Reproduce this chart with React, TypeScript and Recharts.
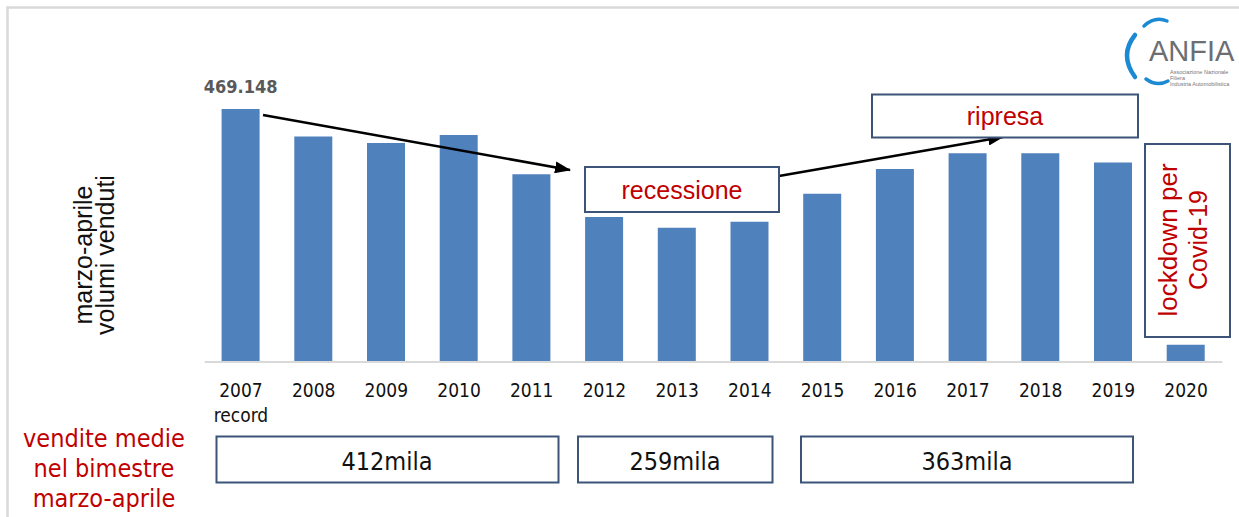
import React from "react";
import { BarChart, Bar, XAxis, YAxis, LabelList } from "recharts";

const years = ["2007", "2008", "2009", "2010", "2011", "2012", "2013", "2014", "2015", "2016", "2017", "2018", "2019", "2020"];
const sales = [469148, 418000, 406000, 421000, 348000, 269000, 249000, 260000, 312000, 358000, 387000, 387000, 370000, 32000];
const yearNotes = ["record", "", "", "", "", "", "", "", "", "", "", "", "", ""];
const peakLabel = "469.148";
const averages = ["412mila", "259mila", "363mila"];
const yTitle = ["marzo-aprile", "volumi venduti"];
const averagesTitle = ["vendite medie", "nel bimestre", "marzo-aprile"];
const phases = ["recessione", "ripresa"];
const lockdownLines = ["lockdown per", "Covid-19"];

const data = years.map((year, i) => ({ year, sales: sales[i], note: yearNotes[i] }));

const W = 1239;
const H = 517;
const BLUE = "#4F81BD";
const RED = "#C00000";
const NAVY = "#3B5478";
const TAHOMA = '"DejaVu Sans Condensed", "DejaVu Sans", sans-serif';
const ARIAL = '"Liberation Sans", Arial, sans-serif';

function YearTick(props: any) {
  const { x, y, payload } = props;
  const i = years.indexOf(String(payload.value));
  return (
    <g>
      <text x={x} y={y + 35} textAnchor="middle" fontFamily={TAHOMA} fontSize={19} fill="#111">
        {payload.value}
      </text>
      {yearNotes[i] && (
        <text x={x} y={y + 60} textAnchor="middle" fontFamily={TAHOMA} fontSize={19} fill="#111">
          {yearNotes[i]}
        </text>
      )}
    </g>
  );
}

function PeakLabel(props: any) {
  const { x, y, width, index } = props;
  if (index !== 0) return null;
  return (
    <text x={x + width / 2} y={y - 16} textAnchor="middle" fontFamily={TAHOMA} fontWeight="bold" fontSize={18} fill="#595959">
      {peakLabel}
    </text>
  );
}

function Box({ x, y, w, h }: { x: number; y: number; w: number; h: number }) {
  return <rect x={x} y={y} width={w} height={h} fill="#fff" stroke={NAVY} strokeWidth={2} />;
}

function Logo() {
  return (
    <g>
      <path d="M1135,35 Q1119,55 1135,77" fill="none" stroke="#1B8AD3" strokeWidth={4.5} strokeLinecap="round" />
      <path d="M1144,26 Q1155,16 1167,21" fill="none" stroke="#1B8AD3" strokeWidth={3.5} strokeLinecap="round" />
      <path d="M1146,79 Q1157,87 1168,81" fill="none" stroke="#1B8AD3" strokeWidth={3.5} strokeLinecap="round" />
      <text x={1149} y={61} fontFamily={ARIAL} fontSize={29} fill="#6b6e72">ANFIA</text>
      <text x={1170} y={74} fontFamily={ARIAL} fontSize={5.5} fill="#777">Associazione Nazionale</text>
      <text x={1170} y={80} fontFamily={ARIAL} fontSize={5.5} fill="#777">Filiera</text>
      <text x={1170} y={86} fontFamily={ARIAL} fontSize={5.5} fill="#777">Industria Automobilistica</text>
    </g>
  );
}

export default function App() {
  return (
    <div style={{ position: "absolute", left: 0, top: 0, width: W, height: H, background: "#fff", overflow: "hidden" }}>
      <BarChart width={W} height={H} data={data} margin={{ top: 109, right: 16.6, left: 204.6, bottom: 125 }}>
        <XAxis
          dataKey="year"
          height={30}
          axisLine={{ stroke: "#D9D9D9", strokeWidth: 2 }}
          tickLine={false}
          tickSize={0}
          tickMargin={0}
          interval={0}
          tick={<YearTick />}
        />
        <YAxis hide domain={[0, 469148]} allowDataOverflow />
        <Bar dataKey="sales" fill={BLUE} barSize={38} isAnimationActive={false}>
          <LabelList dataKey="sales" content={<PeakLabel />} />
        </Bar>
      </BarChart>

      <svg width={W} height={H} style={{ position: "absolute", left: 0, top: 0, pointerEvents: "none" }}>
        <defs>
          <marker id="arrowHead" markerUnits="userSpaceOnUse" markerWidth={16} markerHeight={12} refX={15} refY={6} orient="auto">
            <path d="M0,0 L16,6 L0,12 Z" fill="#000" />
          </marker>
        </defs>

        {/* cornice */}
        <rect x={7.5} y={7.5} width={W + 10} height={H + 10} fill="none" stroke="#D9D9D9" strokeWidth={2.5} />

        <Logo />

        {/* titolo asse y */}
        {yTitle.map((t, i) => (
          <text
            key={t}
            x={83 + i * 22}
            y={255}
            transform={`rotate(-90, ${83 + i * 22}, 255)`}
            textAnchor="middle"
            dominantBaseline="central"
            fontFamily={ARIAL}
            fontSize={25}
            fill="#111"
          >
            {t}
          </text>
        ))}

        {/* frecce */}
        <line x1={263} y1={115} x2={570} y2={170} stroke="#000" strokeWidth={2.5} markerEnd="url(#arrowHead)" />
        <line x1={779} y1={176} x2={1003} y2={137} stroke="#000" strokeWidth={2.5} markerEnd="url(#arrowHead)" />

        {/* recessione */}
        <Box x={585} y={167} w={194} h={45} />
        <text x={682} y={190} textAnchor="middle" dominantBaseline="central" fontFamily={ARIAL} fontSize={25} fill={RED}>
          {phases[0]}
        </text>

        {/* ripresa */}
        <Box x={872} y={94.5} w={266} h={43} />
        <text x={1005} y={116} textAnchor="middle" dominantBaseline="central" fontFamily={ARIAL} fontSize={25} fill={RED}>
          {phases[1]}
        </text>

        {/* lockdown */}
        <Box x={1145} y={144} w={85} h={193} />
        {lockdownLines.map((t, i) => (
          <text
            key={t}
            x={1168 + i * 30}
            y={240}
            transform={`rotate(-90, ${1168 + i * 30}, 240)`}
            textAnchor="middle"
            dominantBaseline="central"
            fontFamily={ARIAL}
            fontSize={i === 0 ? 26 : 25}
            fill={RED}
          >
            {t}
          </text>
        ))}

        {/* medie per periodo */}
        {averagesTitle.map((t, i) => (
          <text key={t + i} x={104} y={438 + i * 30} textAnchor="middle" dominantBaseline="central" fontFamily={TAHOMA} fontSize={25} fill={RED}>
            {t}
          </text>
        ))}
        <Box x={216.5} y={436.5} w={342} h={46} />
        <text x={387} y={461} textAnchor="middle" dominantBaseline="central" fontFamily={TAHOMA} fontSize={25} fill="#111">
          {averages[0]}
        </text>
        <Box x={578} y={436.5} w={194.5} h={46} />
        <text x={675} y={461} textAnchor="middle" dominantBaseline="central" fontFamily={TAHOMA} fontSize={25} fill="#111">
          {averages[1]}
        </text>
        <Box x={801} y={436.5} w={332} h={46} />
        <text x={967} y={461} textAnchor="middle" dominantBaseline="central" fontFamily={TAHOMA} fontSize={25} fill="#111">
          {averages[2]}
        </text>
      </svg>
    </div>
  );
}
